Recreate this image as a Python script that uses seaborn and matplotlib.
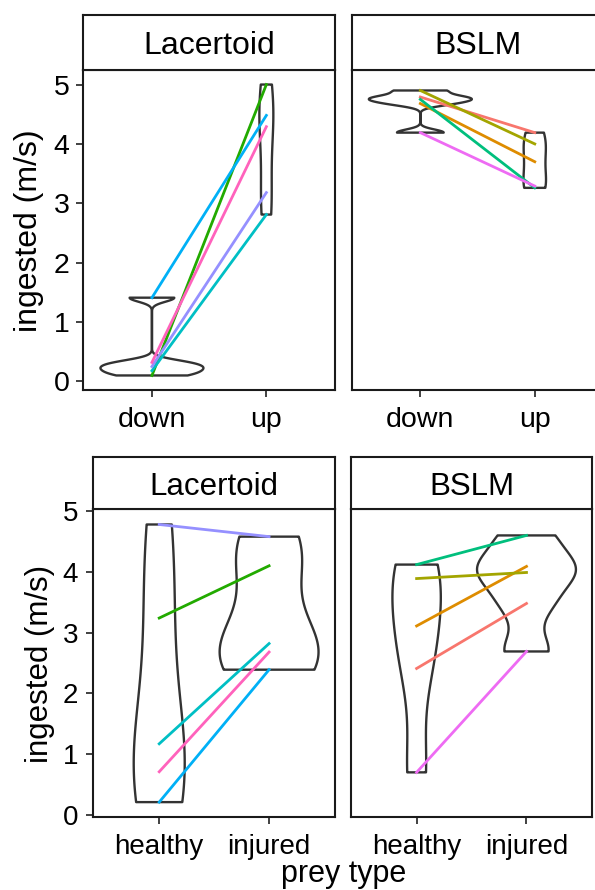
import numpy as np
import pandas as pd
import matplotlib
matplotlib.use("Agg")
import matplotlib.pyplot as plt
import seaborn as sns

# ---------------- data ----------------
species = ["Lacertoid", "BSLM"]
top_levels = ["down", "up"]
bottom_levels = ["healthy", "injured"]
yticks = [0, 1, 2, 3, 4, 5]

lac_ids = ["L_green", "L_teal", "L_blue", "L_lavender", "L_pink"]
bslm_ids = ["B_salmon", "B_orange", "B_olive", "B_tealgreen", "B_magenta"]

# top row: ingested velocity by strike direction
top_lac_down = [0.10, 0.18, 1.41, 0.25, 0.32]
top_lac_up = [5.00, 2.81, 4.48, 3.18, 4.29]
top_bslm_down = [4.79, 4.68, 4.90, 4.75, 4.19]
top_bslm_up = [4.19, 3.70, 4.00, 3.26, 3.29]

# bottom row: ingested velocity by prey type
bot_lac_healthy = [3.24, 1.17, 0.21, 4.78, 0.71]
bot_lac_injured = [4.10, 2.82, 2.39, 4.58, 2.68]
bot_bslm_healthy = [2.41, 3.11, 3.89, 4.12, 0.70]
bot_bslm_injured = [3.48, 4.09, 3.99, 4.60, 2.69]

id_colors = {
    "B_salmon": "#F8766D", "B_orange": "#DE8C00", "B_olive": "#A3A500",
    "L_green": "#22AA00", "B_tealgreen": "#00BF7D", "L_teal": "#00BFC4",
    "L_blue": "#00B0F6", "L_lavender": "#9590FF", "B_magenta": "#EE6BF3",
    "L_pink": "#FF62BC",
}


def long_frame(ids, levels, a, b):
    return pd.DataFrame({
        "id": list(ids) + list(ids),
        "cond": [levels[0]] * len(a) + [levels[1]] * len(b),
        "val": list(a) + list(b),
    })


top_frames = {
    "Lacertoid": long_frame(lac_ids, top_levels, top_lac_down, top_lac_up),
    "BSLM": long_frame(bslm_ids, top_levels, top_bslm_down, top_bslm_up),
}
bot_frames = {
    "Lacertoid": long_frame(lac_ids, bottom_levels, bot_lac_healthy, bot_lac_injured),
    "BSLM": long_frame(bslm_ids, bottom_levels, bot_bslm_healthy, bot_bslm_injured),
}


def nrd0(kde):
    # R's default bandwidth (bw.nrd0) expressed as a factor of the data sd
    x = np.asarray(kde.dataset).ravel()
    n = x.size
    sd = x.std(ddof=1)
    q75, q25 = np.percentile(x, [75, 25])
    lo = min(sd, (q75 - q25) / 1.34)
    if lo <= 0:
        lo = sd if sd > 0 else 1.0
    bw = 0.9 * lo * n ** (-0.2)
    return bw / sd


# ---------------- figure ----------------
plt.rcParams["font.family"] = ["Liberation Sans", "DejaVu Sans"]
W, H = 595, 890
fig = plt.figure(figsize=(W / 100, H / 100), dpi=100)


def frac(x0, y0, x1, y1):
    return [x0 / W, 1 - y1 / H, (x1 - x0) / W, (y1 - y0) / H]


EDGE = "#1a1a1a"
SPINE_LW = 1.5


def style_strip(rect, label, size):
    sax = fig.add_axes(frac(*rect))
    sax.set_xticks([])
    sax.set_yticks([])
    sax.set_facecolor("white")
    for s in sax.spines.values():
        s.set_linewidth(SPINE_LW)
        s.set_color(EDGE)
    sax.text(0.5, 0.5, label, ha="center", va="center_baseline",
             transform=sax.transAxes, fontsize=size, color="black")


def panel(rect, df, levels, ylim, left, ticksize, ypad):
    ax = fig.add_axes(frac(*rect))
    sns.violinplot(data=df, x="cond", y="val", order=levels, ax=ax,
                   inner=None, cut=0, density_norm="area", width=0.9,
                   bw_method=nrd0, gridsize=512, fill=False,
                   color="#333333", linewidth=1.7)
    sns.pointplot(data=df, x="cond", y="val", hue="id", order=levels,
                  palette=id_colors, dodge=False, errorbar=None,
                  markers="", linestyles="-", linewidth=2.0,
                  legend=False, ax=ax)
    ax.set_xlim(-0.6, len(levels) - 0.4)
    ax.set_ylim(*ylim)
    ax.set_xticks(range(len(levels)))
    ax.set_xticklabels(levels)
    ax.set_yticks(yticks)
    ax.set_xlabel("")
    ax.set_ylabel("")
    ax.grid(False)
    for s in ax.spines.values():
        s.set_visible(True)
        s.set_linewidth(SPINE_LW)
        s.set_color(EDGE)
    ax.tick_params(axis="both", length=5, width=1.3, color="#333333",
                   labelsize=ticksize, labelcolor="black")
    ax.tick_params(axis="x", pad=7.5)
    ax.tick_params(axis="y", pad=ypad)
    if not left:
        ax.tick_params(axis="y", left=False, labelleft=False)
    return ax


# top row
top_ylim = (-0.145, 5.245)
top_panels = [(83.3, 70, 335, 390), (351.7, 70, 603.4, 390)]
top_strips = [(83.3, 15, 335, 70), (351.7, 15, 603.4, 70)]
for i, sp in enumerate(species):
    panel(top_panels[i], top_frames[sp], top_levels, top_ylim, i == 0, 20.5, 5)
    style_strip(top_strips[i], sp, 23)

# bottom row
bot_ylim = (-0.03, 5.03)
bot_panels = [(93.3, 509.3, 335, 816.7), (350.7, 509.3, 592.4, 816.7)]
bot_strips = [(93.3, 457.3, 335, 509.3), (350.7, 457.3, 592.4, 509.3)]
for i, sp in enumerate(species):
    panel(bot_panels[i], bot_frames[sp], bottom_levels, bot_ylim, i == 0, 20, 6)
    style_strip(bot_strips[i], sp, 22.5)

# axis titles
fig.text(29 / W, 1 - 231 / H, "ingested (m/s)", rotation=90, ha="center",
         va="center", fontsize=23)
fig.text(40 / W, 1 - 664 / H, "ingested (m/s)", rotation=90, ha="center",
         va="center", fontsize=22.5)
fig.text(344 / W, 1 - 882 / H, "prey type", ha="center", va="baseline",
         fontsize=22)

fig.savefig("out.png", dpi=100, facecolor="white")
